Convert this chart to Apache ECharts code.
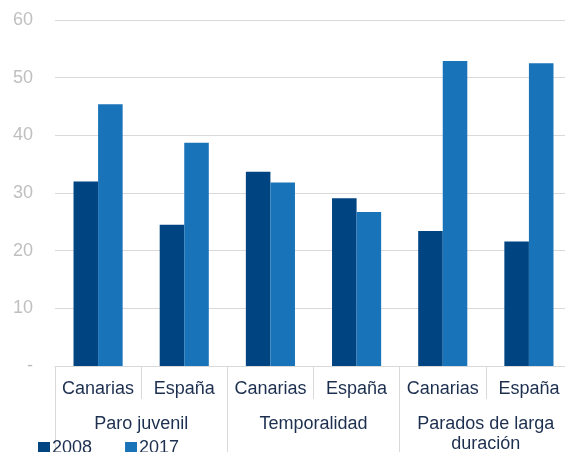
<!DOCTYPE html>
<html>
<head>
<meta charset="utf-8">
<script src="https://cdn.jsdelivr.net/npm/echarts@6/dist/echarts.min.js"></script>
<style>
  html, body { margin: 0; padding: 0; background: #fff; }
  #chart { width: 565px; height: 452px; }
</style>
</head>
<body>
<div id="chart"></div>
<script>
// categorías: región dentro de cada indicador
const REGIONS = ['Canarias', 'España', 'Canarias', 'España', 'Canarias', 'España']
const GROUPS = ['Paro juvenil', 'Temporalidad', 'Parados de larga\nduración']
const SERIES_NAMES = ['2008', '2017']
const VALUES_2008 = [32.0, 24.5, 33.7, 29.1, 23.4, 21.6]
const VALUES_2017 = [45.4, 38.7, 31.8, 26.7, 52.9, 52.5]
const Y_TICKS = [0, 10, 20, 30, 40, 50, 60]

const COLORS = ['#004481', '#1973B8']
const TEXT = '#1c2f4f'
const GRID_LINE = '#d9d9d9'
const FONT = '"Liberation Sans", Arial, sans-serif'

const chart = echarts.init(document.getElementById('chart'))

const option = {
  animation: false,
  textStyle: { fontFamily: FONT },
  // el área del gráfico se sale un poco por la derecha, como en el original
  grid: { left: 55, right: -7, top: 20, bottom: 86, outerBoundsMode: 'none' },
  legend: {
    data: SERIES_NAMES,
    left: 33,
    top: 434,
    itemWidth: 12,
    itemHeight: 12,
    itemGap: 33,
    icon: 'rect',
    textStyle: { color: TEXT, fontSize: 18, fontFamily: FONT, padding: [0, 0, 0, -3] }
  },
  xAxis: [
    {
      type: 'category',
      data: REGIONS,
      position: 'bottom',
      axisLine: { lineStyle: { color: GRID_LINE } },
      axisTick: { show: true, length: 33, interval: 0, lineStyle: { color: GRID_LINE } },
      axisLabel: { color: TEXT, fontSize: 18, margin: 14, interval: 0, fontFamily: FONT }
    },
    {
      type: 'category',
      data: GROUPS,
      position: 'bottom',
      axisLine: { show: false },
      axisTick: { show: true, length: 90, interval: 0, lineStyle: { color: GRID_LINE } },
      axisLabel: { color: TEXT, fontSize: 18, margin: 48, lineHeight: 20, interval: 0, fontFamily: FONT }
    }
  ],
  yAxis: {
    type: 'value',
    min: Y_TICKS[0],
    max: Y_TICKS[Y_TICKS.length - 1],
    interval: 10,
    axisLine: { show: false },
    axisTick: { show: false },
    splitLine: { lineStyle: { color: GRID_LINE, width: 1 } },
    axisLabel: {
      color: '#bfbfbf',
      fontSize: 18,
      margin: 22,
      fontFamily: FONT,
      formatter: v => (v === 0 ? '-' : v)
    }
  },
  series: [
    {
      name: SERIES_NAMES[0],
      type: 'bar',
      xAxisIndex: 0,
      data: VALUES_2008,
      barGap: '0%',
      barCategoryGap: '43%',
      itemStyle: { color: COLORS[0] }
    },
    {
      name: SERIES_NAMES[1],
      type: 'bar',
      xAxisIndex: 0,
      data: VALUES_2017,
      barGap: '0%',
      barCategoryGap: '43%',
      itemStyle: { color: COLORS[1] }
    }
  ]
}

chart.setOption(option)
</script>
</body>
</html>
